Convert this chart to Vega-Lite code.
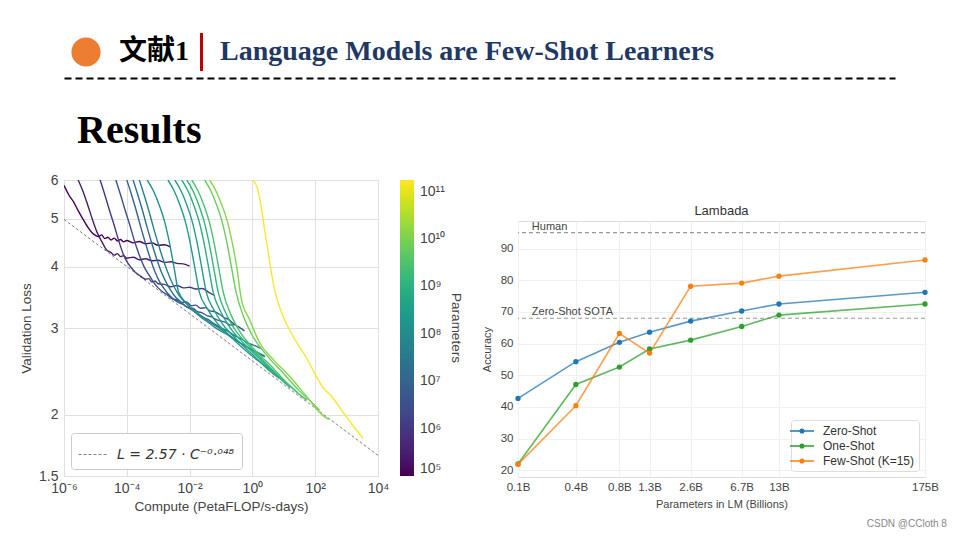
{
  "$schema": "https://vega.github.io/schema/vega-lite/v6.json",
  "background": "white",
  "padding": {"left": 19, "top": 33, "right": 5, "bottom": 2},
  "title": {"text": "CSDN @CCloth 8", "orient": "bottom", "anchor": "end", "fontSize": 10, "color": "#888888", "fontWeight": "normal", "offset": 6, "dx": 8},
  "spacing": 7,
  "resolve": {"scale": {"color": "independent", "strokeDash": "independent"}, "legend": {"color": "independent", "strokeDash": "independent"}},
  "datasets": {
    "curves": [
      {"p":1e5,"c":1e-6,"l":5.85},{"p":1e5,"c":1.413e-6,"l":5.6},{"p":1e5,"c":1.995e-6,"l":5.42},{"p":1e5,"c":2.818e-6,"l":5.2},{"p":1e5,"c":3.981e-6,"l":5.0},{"p":1e5,"c":5.623e-6,"l":4.82},{"p":1e5,"c":7.943e-6,"l":4.68},{"p":1e5,"c":1e-5,"l":4.63},{"p":1e5,"c":1.259e-5,"l":4.6},{"p":1e5,"c":1.585e-5,"l":4.64},{"p":1e5,"c":1.995e-5,"l":4.56},{"p":1e5,"c":2.512e-5,"l":4.59},{"p":1e5,"c":3.162e-5,"l":4.53},{"p":1e5,"c":3.981e-5,"l":4.57},{"p":1e5,"c":5.012e-5,"l":4.51},{"p":1e5,"c":6.31e-5,"l":4.54},{"p":1e5,"c":7.943e-5,"l":4.49},{"p":1e5,"c":1e-4,"l":4.52},{"p":1e5,"c":1.585e-4,"l":4.47},{"p":1e5,"c":2.512e-4,"l":4.5},{"p":1e5,"c":3.981e-4,"l":4.45},{"p":1e5,"c":6.31e-4,"l":4.47},{"p":1e5,"c":1e-3,"l":4.42},{"p":1e5,"c":1.585e-3,"l":4.43},{"p":1e5,"c":2.512e-3,"l":4.38},
      {"p":3e5,"c":2.818e-6,"l":6.0},{"p":3e5,"c":3.981e-6,"l":5.7},{"p":3e5,"c":5.623e-6,"l":5.35},{"p":3e5,"c":7.943e-6,"l":5.0},{"p":3e5,"c":1.122e-5,"l":4.7},{"p":3e5,"c":1.585e-5,"l":4.5},{"p":3e5,"c":2.239e-5,"l":4.33},{"p":3e5,"c":3.162e-5,"l":4.27},{"p":3e5,"c":3.981e-5,"l":4.22},{"p":3e5,"c":5.012e-5,"l":4.25},{"p":3e5,"c":6.31e-5,"l":4.19},{"p":3e5,"c":7.943e-5,"l":4.21},{"p":3e5,"c":1e-4,"l":4.16},{"p":3e5,"c":1.585e-4,"l":4.18},{"p":3e5,"c":2.512e-4,"l":4.13},{"p":3e5,"c":3.981e-4,"l":4.15},{"p":3e5,"c":6.31e-4,"l":4.11},{"p":3e5,"c":1e-3,"l":4.12},{"p":3e5,"c":1.585e-3,"l":4.08},{"p":3e5,"c":2.512e-3,"l":4.09},{"p":3e5,"c":3.981e-3,"l":4.06},{"p":3e5,"c":6.31e-3,"l":4.05},{"p":3e5,"c":1e-2,"l":4.01},
      {"p":1e6,"c":1.413e-5,"l":6.0},{"p":1e6,"c":1.995e-5,"l":5.6},{"p":1e6,"c":2.818e-5,"l":5.2},{"p":1e6,"c":3.981e-5,"l":4.85},{"p":1e6,"c":5.623e-5,"l":4.5},{"p":1e6,"c":7.943e-5,"l":4.22},{"p":1e6,"c":1.122e-4,"l":4.05},{"p":1e6,"c":1.585e-4,"l":3.94},{"p":1e6,"c":1.995e-4,"l":3.88},{"p":1e6,"c":2.512e-4,"l":3.84},{"p":1e6,"c":3.162e-4,"l":3.8},{"p":1e6,"c":3.981e-4,"l":3.77},{"p":1e6,"c":5.012e-4,"l":3.78},{"p":1e6,"c":6.31e-4,"l":3.72},{"p":1e6,"c":7.943e-4,"l":3.74},{"p":1e6,"c":1e-3,"l":3.69},{"p":1e6,"c":1.585e-3,"l":3.68},{"p":1e6,"c":2.512e-3,"l":3.64},{"p":1e6,"c":3.981e-3,"l":3.66},{"p":1e6,"c":6.31e-3,"l":3.62},{"p":1e6,"c":1e-2,"l":3.63},{"p":1e6,"c":1.585e-2,"l":3.6},{"p":1e6,"c":2.512e-2,"l":3.61},{"p":1e6,"c":3.981e-2,"l":3.55},{"p":1e6,"c":6.31e-2,"l":3.49},
      {"p":3e6,"c":4.467e-5,"l":6.0},{"p":3e6,"c":6.31e-5,"l":5.6},{"p":3e6,"c":8.913e-5,"l":5.2},{"p":3e6,"c":1.259e-4,"l":4.85},{"p":3e6,"c":1.778e-4,"l":4.5},{"p":3e6,"c":2.512e-4,"l":4.22},{"p":3e6,"c":3.548e-4,"l":4.0},{"p":3e6,"c":5.012e-4,"l":3.85},{"p":3e6,"c":7.079e-4,"l":3.72},{"p":3e6,"c":1e-3,"l":3.62},{"p":3e6,"c":1.413e-3,"l":3.55},{"p":3e6,"c":1.995e-3,"l":3.5},{"p":3e6,"c":2.818e-3,"l":3.44},{"p":3e6,"c":3.981e-3,"l":3.42},{"p":3e6,"c":5.623e-3,"l":3.38},{"p":3e6,"c":7.943e-3,"l":3.39},{"p":3e6,"c":1.122e-2,"l":3.33},{"p":3e6,"c":1.585e-2,"l":3.34},{"p":3e6,"c":2.239e-2,"l":3.29},{"p":3e6,"c":3.162e-2,"l":3.3},{"p":3e6,"c":4.467e-2,"l":3.25},{"p":3e6,"c":6.31e-2,"l":3.24},{"p":3e6,"c":8.913e-2,"l":3.2},{"p":3e6,"c":0.1259,"l":3.15},{"p":3e6,"c":0.1778,"l":3.12},{"p":3e6,"c":0.2512,"l":3.06},{"p":3e6,"c":0.3548,"l":3.02},{"p":3e6,"c":0.5623,"l":2.96},
      {"p":8e6,"c":1e-4,"l":6.0},{"p":8e6,"c":1.413e-4,"l":5.6},{"p":8e6,"c":1.995e-4,"l":5.2},{"p":8e6,"c":2.818e-4,"l":4.8},{"p":8e6,"c":3.981e-4,"l":4.45},{"p":8e6,"c":5.623e-4,"l":4.15},{"p":8e6,"c":7.943e-4,"l":3.9},{"p":8e6,"c":1.122e-3,"l":3.72},{"p":8e6,"c":1.585e-3,"l":3.6},{"p":8e6,"c":2.239e-3,"l":3.5},{"p":8e6,"c":3.162e-3,"l":3.43},{"p":8e6,"c":4.467e-3,"l":3.38},{"p":8e6,"c":6.31e-3,"l":3.35},{"p":8e6,"c":8.913e-3,"l":3.3},{"p":8e6,"c":1.259e-2,"l":3.29},{"p":8e6,"c":1.778e-2,"l":3.24},{"p":8e6,"c":2.512e-2,"l":3.22},{"p":8e6,"c":3.548e-2,"l":3.18},{"p":8e6,"c":5.012e-2,"l":3.16},{"p":8e6,"c":7.079e-2,"l":3.12},{"p":8e6,"c":0.1,"l":3.1},{"p":8e6,"c":0.1413,"l":3.08},{"p":8e6,"c":0.1995,"l":3.04},{"p":8e6,"c":0.2818,"l":3.05},
      {"p":2e7,"c":1.585e-4,"l":6.0},{"p":2e7,"c":2.239e-4,"l":5.6},{"p":2e7,"c":3.162e-4,"l":5.2},{"p":2e7,"c":4.467e-4,"l":4.8},{"p":2e7,"c":6.31e-4,"l":4.45},{"p":2e7,"c":8.913e-4,"l":4.15},{"p":2e7,"c":1.259e-3,"l":3.9},{"p":2e7,"c":1.778e-3,"l":3.72},{"p":2e7,"c":2.512e-3,"l":3.58},{"p":2e7,"c":3.548e-3,"l":3.47},{"p":2e7,"c":5.012e-3,"l":3.4},{"p":2e7,"c":7.079e-3,"l":3.33},{"p":2e7,"c":1e-2,"l":3.29},{"p":2e7,"c":1.413e-2,"l":3.24},{"p":2e7,"c":1.995e-2,"l":3.2},{"p":2e7,"c":2.818e-2,"l":3.15},{"p":2e7,"c":3.981e-2,"l":3.12},{"p":2e7,"c":5.623e-2,"l":3.07},{"p":2e7,"c":7.943e-2,"l":3.03},{"p":2e7,"c":0.1122,"l":2.99},{"p":2e7,"c":0.1585,"l":2.96},{"p":2e7,"c":0.2239,"l":2.92},{"p":2e7,"c":0.3162,"l":2.88},{"p":2e7,"c":0.4467,"l":2.85},{"p":2e7,"c":0.631,"l":2.81},{"p":2e7,"c":0.8913,"l":2.78},{"p":2e7,"c":1.259,"l":2.76},{"p":2e7,"c":1.995,"l":2.72},
      {"p":5e7,"c":2.512e-4,"l":6.0},{"p":5e7,"c":3.548e-4,"l":5.6},{"p":5e7,"c":5.012e-4,"l":5.2},{"p":5e7,"c":7.079e-4,"l":4.8},{"p":5e7,"c":1e-3,"l":4.45},{"p":5e7,"c":1.413e-3,"l":4.15},{"p":5e7,"c":1.995e-3,"l":3.9},{"p":5e7,"c":2.818e-3,"l":3.7},{"p":5e7,"c":3.981e-3,"l":3.55},{"p":5e7,"c":5.623e-3,"l":3.44},{"p":5e7,"c":7.943e-3,"l":3.36},{"p":5e7,"c":1.122e-2,"l":3.29},{"p":5e7,"c":1.585e-2,"l":3.23},{"p":5e7,"c":2.239e-2,"l":3.18},{"p":5e7,"c":3.162e-2,"l":3.13},{"p":5e7,"c":4.467e-2,"l":3.08},{"p":5e7,"c":6.31e-2,"l":3.04},{"p":5e7,"c":0.1,"l":2.98},{"p":5e7,"c":0.1585,"l":2.92},{"p":5e7,"c":0.2512,"l":2.86},{"p":5e7,"c":0.3981,"l":2.8},{"p":5e7,"c":0.631,"l":2.75},{"p":5e7,"c":1,"l":2.7},{"p":5e7,"c":1.585,"l":2.66},{"p":5e7,"c":2.512,"l":2.62},
      {"p":1.25e8,"c":4.467e-4,"l":6.0},{"p":1.25e8,"c":7.079e-4,"l":5.7},{"p":1.25e8,"c":1.122e-3,"l":5.3},{"p":1.25e8,"c":1.585e-3,"l":4.95},{"p":1.25e8,"c":2.239e-3,"l":4.5},{"p":1.25e8,"c":3.162e-3,"l":4.0},{"p":1.25e8,"c":4.467e-3,"l":3.55},{"p":1.25e8,"c":7.943e-3,"l":3.37},{"p":1.25e8,"c":1.413e-2,"l":3.24},{"p":1.25e8,"c":2.512e-2,"l":3.14},{"p":1.25e8,"c":4.467e-2,"l":3.06},{"p":1.25e8,"c":7.943e-2,"l":2.98},{"p":1.25e8,"c":0.1413,"l":2.92},{"p":1.25e8,"c":0.2512,"l":2.85},{"p":1.25e8,"c":0.4467,"l":2.79},{"p":1.25e8,"c":0.7943,"l":2.73},{"p":1.25e8,"c":1.413,"l":2.68},{"p":1.25e8,"c":2.512,"l":2.63},
      {"p":2.5e8,"c":2.042e-3,"l":6.0},{"p":2.5e8,"c":3.236e-3,"l":5.7},{"p":2.5e8,"c":5.129e-3,"l":5.3},{"p":2.5e8,"c":7.244e-3,"l":4.95},{"p":2.5e8,"c":1.023e-2,"l":4.5},{"p":2.5e8,"c":1.445e-2,"l":4.0},{"p":2.5e8,"c":2.042e-2,"l":3.55},{"p":2.5e8,"c":3.631e-2,"l":3.29},{"p":2.5e8,"c":6.457e-2,"l":3.11},{"p":2.5e8,"c":0.2042,"l":2.88},{"p":2.5e8,"c":0.6457,"l":2.69},{"p":2.5e8,"c":1.995,"l":2.54},{"p":2.5e8,"c":5.012,"l":2.44},
      {"p":3.5e8,"c":3.388e-3,"l":6.0},{"p":3.5e8,"c":5.37e-3,"l":5.7},{"p":3.5e8,"c":8.511e-3,"l":5.3},{"p":3.5e8,"c":1.202e-2,"l":4.95},{"p":3.5e8,"c":1.698e-2,"l":4.5},{"p":3.5e8,"c":2.399e-2,"l":4.0},{"p":3.5e8,"c":3.388e-2,"l":3.55},{"p":3.5e8,"c":6.026e-2,"l":3.26},{"p":3.5e8,"c":0.1072,"l":3.07},{"p":3.5e8,"c":0.3388,"l":2.83},{"p":3.5e8,"c":1.072,"l":2.64},{"p":3.5e8,"c":3.388,"l":2.46},{"p":3.5e8,"c":7.244,"l":2.37},
      {"p":7.6e8,"c":5.623e-3,"l":6.0},{"p":7.6e8,"c":8.913e-3,"l":5.7},{"p":7.6e8,"c":1.413e-2,"l":5.3},{"p":7.6e8,"c":1.995e-2,"l":4.95},{"p":7.6e8,"c":2.818e-2,"l":4.5},{"p":7.6e8,"c":3.981e-2,"l":4.0},{"p":7.6e8,"c":5.623e-2,"l":3.55},{"p":7.6e8,"c":0.1,"l":3.23},{"p":7.6e8,"c":0.1778,"l":3.03},{"p":7.6e8,"c":0.5623,"l":2.78},{"p":7.6e8,"c":1.778,"l":2.59},{"p":7.6e8,"c":5.623,"l":2.41},{"p":7.6e8,"c":15.85,"l":2.27},
      {"p":1.3e9,"c":8.128e-3,"l":6.0},{"p":1.3e9,"c":1.288e-2,"l":5.7},{"p":1.3e9,"c":2.042e-2,"l":5.3},{"p":1.3e9,"c":2.884e-2,"l":4.95},{"p":1.3e9,"c":4.074e-2,"l":4.5},{"p":1.3e9,"c":5.754e-2,"l":4.0},{"p":1.3e9,"c":8.128e-2,"l":3.55},{"p":1.3e9,"c":0.1445,"l":3.21},{"p":1.3e9,"c":0.257,"l":3.0},{"p":1.3e9,"c":0.8128,"l":2.75},{"p":1.3e9,"c":2.57,"l":2.55},{"p":1.3e9,"c":8.128,"l":2.37},{"p":1.3e9,"c":26.92,"l":2.22},
      {"p":2.7e9,"c":1.175e-2,"l":6.0},{"p":2.7e9,"c":1.862e-2,"l":5.7},{"p":2.7e9,"c":2.951e-2,"l":5.3},{"p":2.7e9,"c":4.169e-2,"l":4.95},{"p":2.7e9,"c":5.888e-2,"l":4.5},{"p":2.7e9,"c":8.318e-2,"l":4.0},{"p":2.7e9,"c":0.1175,"l":3.55},{"p":2.7e9,"c":0.2089,"l":3.19},{"p":2.7e9,"c":0.3715,"l":2.97},{"p":2.7e9,"c":1.175,"l":2.71},{"p":2.7e9,"c":3.715,"l":2.52},{"p":2.7e9,"c":11.75,"l":2.33},{"p":2.7e9,"c":37.15,"l":2.18},{"p":2.7e9,"c":54.95,"l":2.14},
      {"p":6.7e9,"c":3.02e-2,"l":6.0},{"p":6.7e9,"c":4.786e-2,"l":5.7},{"p":6.7e9,"c":7.586e-2,"l":5.3},{"p":6.7e9,"c":0.1072,"l":4.95},{"p":6.7e9,"c":0.1514,"l":4.5},{"p":6.7e9,"c":0.2138,"l":4.0},{"p":6.7e9,"c":0.302,"l":3.55},{"p":6.7e9,"c":0.537,"l":3.15},{"p":6.7e9,"c":0.955,"l":2.91},{"p":6.7e9,"c":3.02,"l":2.63},{"p":6.7e9,"c":9.55,"l":2.43},{"p":6.7e9,"c":30.2,"l":2.24},{"p":6.7e9,"c":95.5,"l":2.09},{"p":6.7e9,"c":138,"l":2.04},
      {"p":1.3e10,"c":4.365e-2,"l":6.0},{"p":1.3e10,"c":6.918e-2,"l":5.7},{"p":1.3e10,"c":0.1047,"l":5.35},{"p":1.3e10,"c":0.1514,"l":5.0},{"p":1.3e10,"c":0.2239,"l":4.5},{"p":1.3e10,"c":0.3162,"l":4.0},{"p":1.3e10,"c":0.4467,"l":3.43},{"p":1.3e10,"c":0.8128,"l":3.12},{"p":1.3e10,"c":1.698,"l":2.8},{"p":1.3e10,"c":4.571,"l":2.59},{"p":1.3e10,"c":15.49,"l":2.39},{"p":1.3e10,"c":52.48,"l":2.18},{"p":1.3e10,"c":177.8,"l":1.99},{"p":1.3e10,"c":269.2,"l":1.955},
      {"p":1.75e11,"c":1,"l":6.0},{"p":1.75e11,"c":1.413,"l":5.8},{"p":1.75e11,"c":1.905,"l":5.3},{"p":1.75e11,"c":2.512,"l":4.7},{"p":1.75e11,"c":3.162,"l":4.3},{"p":1.75e11,"c":3.981,"l":3.9},{"p":1.75e11,"c":5.623,"l":3.5},{"p":1.75e11,"c":8.913,"l":3.2},{"p":1.75e11,"c":19.5,"l":2.89},{"p":1.75e11,"c":52.48,"l":2.61},{"p":1.75e11,"c":109.6,"l":2.39},{"p":1.75e11,"c":177.8,"l":2.27},{"p":1.75e11,"c":331.1,"l":2.18},{"p":1.75e11,"c":776.2,"l":2.02},{"p":1.75e11,"c":1585,"l":1.9},{"p":1.75e11,"c":3311,"l":1.79}
    ],
    "fit": [
      {"label": "L = 2.57 · C⁻⁰·⁰⁴⁸", "c": 1e-6, "l": 4.99},
      {"label": "L = 2.57 · C⁻⁰·⁰⁴⁸", "c": 1e4, "l": 1.652}
    ],
    "lambada": [
      {"setting": "Zero-Shot", "n": 0.125, "acc": 42.7},
      {"setting": "Zero-Shot", "n": 0.35, "acc": 54.3},
      {"setting": "Zero-Shot", "n": 0.76, "acc": 60.4},
      {"setting": "Zero-Shot", "n": 1.3, "acc": 63.6},
      {"setting": "Zero-Shot", "n": 2.7, "acc": 67.1},
      {"setting": "Zero-Shot", "n": 6.7, "acc": 70.3},
      {"setting": "Zero-Shot", "n": 13, "acc": 72.5},
      {"setting": "Zero-Shot", "n": 175, "acc": 76.2},
      {"setting": "One-Shot", "n": 0.125, "acc": 22.0},
      {"setting": "One-Shot", "n": 0.35, "acc": 47.1},
      {"setting": "One-Shot", "n": 0.76, "acc": 52.6},
      {"setting": "One-Shot", "n": 1.3, "acc": 58.3},
      {"setting": "One-Shot", "n": 2.7, "acc": 61.1},
      {"setting": "One-Shot", "n": 6.7, "acc": 65.4},
      {"setting": "One-Shot", "n": 13, "acc": 69.0},
      {"setting": "One-Shot", "n": 175, "acc": 72.5},
      {"setting": "Few-Shot (K=15)", "n": 0.125, "acc": 21.9},
      {"setting": "Few-Shot (K=15)", "n": 0.35, "acc": 40.4},
      {"setting": "Few-Shot (K=15)", "n": 0.76, "acc": 63.2},
      {"setting": "Few-Shot (K=15)", "n": 1.3, "acc": 57.0},
      {"setting": "Few-Shot (K=15)", "n": 2.7, "acc": 78.1},
      {"setting": "Few-Shot (K=15)", "n": 6.7, "acc": 79.1},
      {"setting": "Few-Shot (K=15)", "n": 13, "acc": 81.3},
      {"setting": "Few-Shot (K=15)", "n": 175, "acc": 86.4}
    ],
    "refs": [
      {"label": "Human", "acc": 95},
      {"label": "Zero-Shot SOTA", "acc": 68}
    ]
  },
  "vconcat": [
    {
      "spacing": 10,
      "hconcat": [
        {"width": 44, "height": 38, "data": {"values": [{"item": "dot"}]}, "mark": {"type": "point", "shape": "circle", "filled": true, "color": "#ED7D31", "opacity": 1, "size": 850}, "encoding": {}},
        {"width": 70, "height": 38, "data": {"values": [{"t": "文献1"}]}, "mark": {"type": "text", "font": "Liberation Serif, Noto Sans CJK SC", "fontSize": 28, "fontWeight": "bold", "color": "#000000", "baseline": "middle", "align": "center"}, "encoding": {"text": {"field": "t"}}},
        {"width": 3, "height": 38, "data": {"values": [{"item": "bar"}]}, "mark": {"type": "rect", "color": "#C00000"}, "encoding": {}},
        {"width": 508, "height": 38, "data": {"values": [{"t": "Language Models are Few-Shot Learners"}]}, "mark": {"type": "text", "font": "Liberation Serif", "fontSize": 28, "fontWeight": "bold", "color": "#1F3864", "baseline": "middle", "align": "center"}, "encoding": {"text": {"field": "t"}}}
      ]
    },
    {
      "width": 831,
      "height": 25,
      "data": {"values": [{"k": "rule"}]},
      "mark": {"type": "point", "opacity": 0},
      "encoding": {
        "x": {"field": "k", "type": "nominal", "axis": {"orient": "top", "title": null, "labels": false, "ticks": false, "grid": false, "domain": true, "domainColor": "#000000", "domainWidth": 2, "domainDash": [7, 4]}}
      }
    },
    {
      "title": {"text": "Results", "anchor": "start", "dx": 58, "font": "Liberation Serif", "fontSize": 40, "fontWeight": "bold", "color": "#000000", "offset": 22},
      "spacing": 16,
      "resolve": {"scale": {"color": "independent", "strokeDash": "independent"}, "legend": {"color": "independent", "strokeDash": "independent"}},
      "hconcat": [
        {
          "width": 314,
          "height": 296,
          "view": {"stroke": "#dddddd"},
          "layer": [
            {
              "data": {"name": "fit"},
              "mark": {"type": "line", "strokeWidth": 1, "color": "#808080"},
              "encoding": {
                "x": {"field": "c", "type": "quantitative", "scale": {"type": "log", "domain": [1e-6, 1e4], "nice": false},
                  "axis": {"values": [1e-6, 1e-4, 1e-2, 1, 100, 10000], "labelExpr": "datum.value < 1e-5 ? '10⁻⁶' : datum.value < 1e-3 ? '10⁻⁴' : datum.value < 0.1 ? '10⁻²' : datum.value < 10 ? '10⁰' : datum.value < 1000 ? '10²' : '10⁴'", "title": "Compute (PetaFLOP/s-days)", "grid": true, "gridColor": "#e0e0e0", "ticks": false, "domain": false, "labelFontSize": 14, "labelColor": "#444444", "labelPadding": 5, "labelFlush": false, "labelOverlap": false, "titleFontSize": 13.5, "titleFontWeight": "normal", "titleColor": "#444444", "titlePadding": 4}},
                "y": {"field": "l", "type": "quantitative", "scale": {"type": "log", "domain": [1.5, 6], "nice": false},
                  "axis": {"values": [1.5, 2, 3, 4, 5, 6], "format": "~g", "title": "Validation Loss", "grid": true, "gridColor": "#e0e0e0", "ticks": false, "domain": false, "labelFontSize": 14, "labelColor": "#444444", "labelPadding": 6, "labelFlush": false, "labelOverlap": false, "titleFontSize": 13.5, "titleFontWeight": "normal", "titleColor": "#444444", "titlePadding": 5}},
                "strokeDash": {"field": "label", "type": "nominal", "scale": {"range": [[3, 2]]},
                  "legend": {"orient": "bottom-left", "offset": 7, "title": null, "fillColor": "white", "strokeColor": "#cccccc", "cornerRadius": 3, "padding": 7, "symbolType": "stroke", "symbolSize": 784, "symbolStrokeColor": "#808080", "symbolStrokeWidth": 1, "labelFont": "DejaVu Sans", "labelFontStyle": "italic", "labelFontSize": 14, "labelColor": "#333333", "labelOffset": 10}}
              }
            },
            {
              "data": {"name": "curves"},
              "mark": {"type": "line", "strokeWidth": 1.4, "interpolate": "monotone", "clip": true},
              "encoding": {
                "x": {"field": "c", "type": "quantitative"},
                "y": {"field": "l", "type": "quantitative"},
                "detail": {"field": "p", "type": "nominal"},
                "color": {"field": "p", "type": "quantitative", "scale": {"type": "log", "scheme": "viridis", "domain": [1e5, 1.75e11]},
                  "legend": {"type": "gradient", "direction": "vertical", "orient": "right", "offset": 20, "padding": 0, "gradientLength": 296, "gradientThickness": 14, "gradientStrokeWidth": 0, "values": [1e5, 1e6, 1e7, 1e8, 1e9, 1e10, 1e11], "labelExpr": "datum.value < 5e5 ? '10⁵' : datum.value < 5e6 ? '10⁶' : datum.value < 5e7 ? '10⁷' : datum.value < 5e8 ? '10⁸' : datum.value < 5e9 ? '10⁹' : datum.value < 5e10 ? '10¹⁰' : '10¹¹'", "labelFontSize": 14, "labelColor": "#444444", "labelOffset": 6, "labelOverlap": false, "title": "Parameters", "titleOrient": "right", "titleAngle": 270, "titleAnchor": "middle", "titleBaseline": "bottom", "titleFontSize": 13.5, "titleFontWeight": "normal", "titleColor": "#444444", "titlePadding": 4}}
              }
            }
          ]
        },
        {
          "spacing": 0,
          "resolve": {"scale": {"color": "independent"}, "legend": {"color": "independent"}},
          "vconcat": [
            {"width": 407, "height": 24, "data": {"values": [{"item": "gap"}]}, "mark": {"type": "point", "opacity": 0}, "encoding": {}},
            {
              "width": 407,
              "height": 256,
              "view": {"stroke": "#dddddd"},
              "title": {"text": "Lambada", "fontSize": 13, "color": "#333333", "font": "Liberation Sans", "offset": 3, "anchor": "middle"},
              "layer": [
                {
                  "data": {"name": "refs"},
                  "mark": {"type": "rule", "strokeDash": [4, 3], "color": "#999999", "strokeWidth": 1.2},
                  "encoding": {
                    "y": {"field": "acc", "type": "quantitative", "scale": {"domain": [17.9, 98.7], "nice": false, "zero": false},
                      "axis": {"values": [20, 30, 40, 50, 60, 70, 80, 90], "tickCount": 8, "title": "Accuracy", "grid": true, "gridColor": "#f0f0f0", "ticks": false, "domain": false, "labelFontSize": 11.5, "labelColor": "#444444", "labelPadding": 5, "labelOverlap": false, "labelSeparation": 0, "labelFlush": false, "labelBound": false, "titleFontSize": 11, "titleFontWeight": "normal", "titleColor": "#444444", "titlePadding": 8}}
                  }
                },
                {
                  "data": {"name": "refs"},
                  "mark": {"type": "text", "align": "left", "baseline": "bottom", "dy": -1, "fontSize": 11, "color": "#444444"},
                  "encoding": {
                    "x": {"datum": 0.16, "type": "quantitative", "scale": {"type": "log", "domain": [0.125, 175], "nice": false, "zero": false},
                      "axis": {"values": [0.125, 0.35, 0.76, 1.3, 2.7, 6.7, 13, 175], "labelExpr": "datum.value < 0.2 ? '0.1B' : datum.value < 0.5 ? '0.4B' : datum.value < 1 ? '0.8B' : datum.value < 2 ? '1.3B' : datum.value < 5 ? '2.6B' : datum.value < 10 ? '6.7B' : datum.value < 100 ? '13B' : '175B'", "title": "Parameters in LM (Billions)", "grid": true, "gridColor": "#f0f0f0", "ticks": false, "domain": false, "labelFontSize": 11.5, "labelColor": "#444444", "labelPadding": 4, "labelFlush": false, "labelOverlap": false, "titleFontSize": 11, "titleFontWeight": "normal", "titleColor": "#444444", "titlePadding": 6}},
                    "y": {"field": "acc", "type": "quantitative",
                      "axis": {"values": [20, 30, 40, 50, 60, 70, 80, 90], "tickCount": 8, "title": "Accuracy", "grid": true, "gridColor": "#f0f0f0", "ticks": false, "domain": false, "labelFontSize": 11.5, "labelColor": "#444444", "labelPadding": 5, "labelOverlap": false, "labelSeparation": 0, "labelFlush": false, "labelBound": false, "titleFontSize": 11, "titleFontWeight": "normal", "titleColor": "#444444", "titlePadding": 8}},
                    "text": {"field": "label"}
                  }
                },
                {
                  "data": {"name": "lambada"},
                  "mark": {"type": "line", "strokeWidth": 1.6, "opacity": 0.75, "point": {"filled": true, "size": 28, "opacity": 1}},
                  "encoding": {
                    "x": {"field": "n", "type": "quantitative"},
                    "y": {"field": "acc", "type": "quantitative",
                      "axis": {"values": [20, 30, 40, 50, 60, 70, 80, 90], "tickCount": 8, "title": "Accuracy", "grid": true, "gridColor": "#f0f0f0", "ticks": false, "domain": false, "labelFontSize": 11.5, "labelColor": "#444444", "labelPadding": 5, "labelOverlap": false, "labelSeparation": 0, "labelFlush": false, "labelBound": false, "titleFontSize": 11, "titleFontWeight": "normal", "titleColor": "#444444", "titlePadding": 8}},
                    "color": {"field": "setting", "type": "nominal", "scale": {"domain": ["Zero-Shot", "One-Shot", "Few-Shot (K=15)"], "range": ["#1f77b4", "#2ca02c", "#ff7f0e"]},
                      "legend": {"orient": "bottom-right", "offset": 6, "title": null, "fillColor": "white", "strokeColor": "#dddddd", "cornerRadius": 3, "padding": 4, "labelFontSize": 12, "labelColor": "#333333", "rowPadding": 2, "labelOffset": 14, "symbolType": "M-2,0L2,0M-0.3,0A0.3,0.3,0,1,0,0.3,0A0.3,0.3,0,1,0,-0.3,0Z", "symbolSize": 144, "symbolStrokeWidth": 1.5, "symbolOpacity": 1}}
                  }
                }
              ]
            }
          ]
        }
      ]
    }
  ],
  "config": {
    "view": {"stroke": null},
    "font": "Liberation Sans",
    "title": {"fontWeight": "normal"}
  }
}
